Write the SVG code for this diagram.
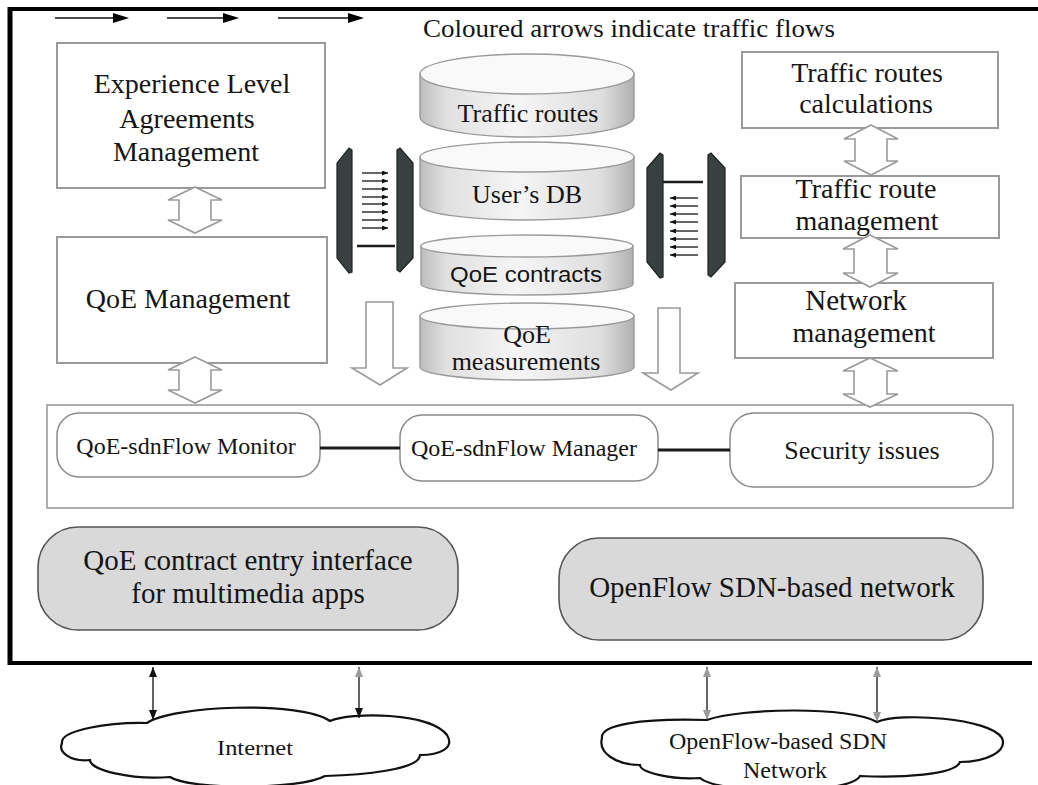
<svg xmlns="http://www.w3.org/2000/svg" width="1038" height="785" viewBox="0 0 1038 785">
<style>
.t{font-family:"Liberation Serif","Times New Roman",serif;fill:#151515;text-anchor:middle}
.s{font-family:"Liberation Sans",Arial,sans-serif;fill:#151515;text-anchor:middle}
.box{fill:#fff;stroke:#9a9a9a;stroke-width:2}
.rbox{fill:#fff;stroke:#8a8a8a;stroke-width:1.5}
.gbox{fill:#d9d9d9;stroke:#555;stroke-width:1.6}
.hollow{fill:#fff;stroke:#9a9a9a;stroke-width:1.6;stroke-linejoin:miter}
.cylside{fill:url(#cyl);stroke:#9a9a9a;stroke-width:1.4}
.cyltop{fill:#f9f9f9;stroke:#9a9a9a;stroke-width:1.4}
.strip{fill:#394040;stroke:#1e2222;stroke-width:1.2}
.frame{stroke:#000;fill:none}
.conn{stroke:#1a1a1a;stroke-width:3;fill:none}
.thin{stroke:#111;stroke-width:1.3;fill:none}
.cloud{fill:#fff;stroke:#111;stroke-width:2.2}
.head{fill:#000}
</style>
<defs>
<linearGradient id="cyl" x1="0" y1="0" x2="1" y2="0">
<stop offset="0" stop-color="#bdbdbd"/>
<stop offset="0.12" stop-color="#e0e0e0"/>
<stop offset="0.45" stop-color="#f5f5f5"/>
<stop offset="0.85" stop-color="#dedede"/>
<stop offset="1" stop-color="#b0b0b0"/>
</linearGradient>
<marker id="sm" viewBox="0 0 6 5" refX="6" refY="2.5" markerWidth="6" markerHeight="5" markerUnits="userSpaceOnUse" orient="auto">
<path d="M0,0 L6,2.5 L0,5 Z" fill="#111"/>
</marker>
<marker id="dk" viewBox="0 0 10 8" refX="10" refY="4" markerWidth="10" markerHeight="8" markerUnits="userSpaceOnUse" orient="auto-start-reverse">
<path d="M0,0 L10,4 L0,8 Z" fill="#111"/>
</marker>
<marker id="gy" viewBox="0 0 10 8" refX="10" refY="4" markerWidth="10" markerHeight="8" markerUnits="userSpaceOnUse" orient="auto-start-reverse">
<path d="M0,0 L10,4 L0,8 Z" fill="#9a9a9a"/>
</marker>
</defs>
<rect width="1038" height="785" fill="#fff"/>

<g id="frame">
<line class="frame" x1="8" y1="9" x2="1038" y2="9" stroke-width="4"/>
<line class="frame" x1="10" y1="7" x2="10" y2="665" stroke-width="5"/>
<line class="frame" x1="8" y1="663" x2="1032" y2="663" stroke-width="4"/>
</g>

<g id="legend">
<line class="thin" x1="55" y1="18" x2="118" y2="18" stroke-width="2"/>
<path class="head" d="M113,13 L129,18 L113,23 Z"/>
<line class="thin" x1="167" y1="18" x2="228" y2="18" stroke-width="2"/>
<path class="head" d="M223,13 L239,18 L223,23 Z"/>
<line class="thin" x1="278" y1="18" x2="352" y2="18" stroke-width="2"/>
<path class="head" d="M348,13 L364,18 L348,23 Z"/>
<text class="t" x="629" y="37" font-size="25" textLength="412" lengthAdjust="spacingAndGlyphs">Coloured arrows indicate traffic flows</text>
</g>

<g id="ela">
<rect class="box" x="57" y="43" width="268" height="145"/>
<text class="t" x="192" y="93" font-size="28">Experience Level</text>
<text class="t" x="187" y="128" font-size="28">Agreements</text>
<text class="t" x="186" y="161" font-size="28">Management</text>
</g>

<g id="qoe-mgmt">
<rect class="box" x="57" y="237" width="270" height="126"/>
<text class="t" x="188" y="308" font-size="28">QoE Management</text>
</g>

<g id="trc">
<rect class="box" x="742" y="52" width="256" height="76"/>
<text class="t" x="867" y="82" font-size="28">Traffic routes</text>
<text class="t" x="866" y="113" font-size="28">calculations</text>
</g>

<g id="trm">
<rect class="box" x="741" y="176" width="258" height="62"/>
<text class="t" x="866" y="198" font-size="28">Traffic route</text>
<text class="t" x="867" y="230" font-size="28">management</text>
</g>

<g id="nm">
<rect class="box" x="735" y="283" width="258" height="75"/>
<text class="t" x="856" y="310" font-size="29">Network</text>
<text class="t" x="864" y="342" font-size="28">management</text>
</g>

<g id="db-traffic-routes">
<path class="cylside" d="M420,74 L420,117 A107,20 0 0 0 634,117 L634,74 Z"/>
<ellipse class="cyltop" cx="527" cy="74" rx="107" ry="20"/>
<text class="t" x="528" y="122" font-size="26">Traffic routes</text>
</g>

<g id="db-users">
<path class="cylside" d="M420,157 L420,205 A107,15 0 0 0 634,205 L634,157 Z"/>
<ellipse class="cyltop" cx="527" cy="157" rx="107" ry="15"/>
<text class="t" x="527" y="203" font-size="26">User’s DB</text>
</g>

<g id="db-contracts">
<path class="cylside" d="M421,246 L421,284 A106,11 0 0 0 633,284 L633,246 Z"/>
<ellipse class="cyltop" cx="527" cy="246" rx="106" ry="11"/>
<text class="s" x="526" y="282" font-size="22" textLength="152" lengthAdjust="spacingAndGlyphs">QoE contracts</text>
</g>

<g id="db-measurements">
<path class="cylside" d="M420,316 L420,367 A107,13 0 0 0 634,367 L634,316 Z"/>
<ellipse class="cyltop" cx="527" cy="316" rx="107" ry="13"/>
<text class="t" x="527" y="343" font-size="26">QoE</text>
<text class="t" x="526" y="370" font-size="26">measurements</text>
</g>

<g id="gate-left">
<path class="strip" d="M337,163 L349,148 L352,150 L352,272 L349,273 L337,258 Z"/>
<path class="strip" d="M397,150 L400,148 L413,163 L413,258 L400,272 L397,270 Z"/>
<g class="thin" stroke-width="1.3">
<line x1="362" y1="173" x2="388" y2="173" marker-end="url(#sm)"/>
<line x1="362" y1="181" x2="388" y2="181" marker-end="url(#sm)"/>
<line x1="362" y1="189" x2="388" y2="189" marker-end="url(#sm)"/>
<line x1="362" y1="197" x2="388" y2="197" marker-end="url(#sm)"/>
<line x1="362" y1="204" x2="388" y2="204" marker-end="url(#sm)"/>
<line x1="362" y1="212" x2="388" y2="212" marker-end="url(#sm)"/>
<line x1="362" y1="220" x2="388" y2="220" marker-end="url(#sm)"/>
<line x1="362" y1="228" x2="388" y2="228" marker-end="url(#sm)"/>
</g>
<line x1="357" y1="246" x2="395" y2="246" stroke="#1a1a1a" stroke-width="2.5"/>
</g>

<g id="gate-right">
<path class="strip" d="M647,168 L660,153 L663,155 L663,277 L660,278 L647,262 Z"/>
<path class="strip" d="M708,155 L711,153 L725,168 L725,262 L711,277 L708,275 Z"/>
<line x1="663" y1="182" x2="703" y2="182" stroke="#1a1a1a" stroke-width="2.5"/>
<g class="thin" stroke-width="1.3">
<line x1="698" y1="198" x2="670" y2="198" marker-end="url(#sm)"/>
<line x1="698" y1="206" x2="670" y2="206" marker-end="url(#sm)"/>
<line x1="698" y1="214" x2="670" y2="214" marker-end="url(#sm)"/>
<line x1="698" y1="222" x2="670" y2="222" marker-end="url(#sm)"/>
<line x1="698" y1="231" x2="670" y2="231" marker-end="url(#sm)"/>
<line x1="698" y1="239" x2="670" y2="239" marker-end="url(#sm)"/>
<line x1="698" y1="247" x2="670" y2="247" marker-end="url(#sm)"/>
<line x1="698" y1="255" x2="670" y2="255" marker-end="url(#sm)"/>
</g>
</g>

<g id="container">
<rect x="47" y="405" width="966" height="103" fill="none" stroke="#9a9a9a" stroke-width="1.6"/>
</g>

<g id="monitor">
<rect class="rbox" x="57" y="413" width="263" height="64" rx="22"/>
<text class="t" x="186" y="454" font-size="24">QoE-sdnFlow Monitor</text>
</g>

<g id="manager">
<rect class="rbox" x="400" y="415" width="258" height="66" rx="22"/>
<text class="t" x="524" y="456" font-size="24">QoE-sdnFlow Manager</text>
</g>

<g id="security">
<rect class="rbox" x="730" y="413" width="263" height="74" rx="24"/>
<text class="t" x="862" y="459" font-size="26">Security issues</text>
</g>

<g id="entry-interface">
<rect class="gbox" x="38" y="527" width="420" height="103" rx="40"/>
<text class="t" x="248" y="570" font-size="29">QoE contract entry interface</text>
<text class="t" x="248" y="603" font-size="29">for multimedia apps</text>
</g>

<g id="openflow-net">
<rect class="gbox" x="559" y="538" width="424" height="102" rx="40"/>
<text class="t" x="772" y="597" font-size="29">OpenFlow SDN-based network</text>
</g>

<g id="internet">
<path class="cloud" d="M62,743 C60,730 110,722 147,723 C170,706 300,700 330,721 C350,712 430,712 447,735 C455,748 440,755 420,755 C420,770 360,775 325,776 C300,790 190,790 170,777 C130,780 90,770 90,760 C70,762 58,752 62,743 Z"/>
<text class="t" x="255" y="755" font-size="22" textLength="76" lengthAdjust="spacingAndGlyphs">Internet</text>
</g>

<g id="sdn-cloud">
<path class="cloud" d="M602,738 C600,725 640,718 707,720 C740,708 850,706 877,722 C900,712 990,718 1002,738 C1008,752 985,762 960,762 C955,775 900,778 860,776 C850,795 720,795 700,778 C670,780 640,772 640,765 C615,765 598,752 602,738 Z"/>
<text class="t" x="778" y="749" font-size="24">OpenFlow-based SDN</text>
<text class="t" x="785" y="778" font-size="24">Network</text>
</g>

<g id="connectors">
<path class="hollow" d="M195,187 L222,200 L211,200 L211,220 L222,220 L195,233 L168,220 L179,220 L179,200 L168,200 Z"/>
<path class="hollow" d="M195,357 L222,370 L211,370 L211,390 L222,390 L195,403 L168,390 L179,390 L179,370 L168,370 Z"/>
<path class="hollow" d="M871,125 L898,139 L887,139 L887,161 L898,161 L871,175 L844,161 L855,161 L855,139 L844,139 Z"/>
<path class="hollow" d="M870,235 L898,249 L887,249 L887,273 L898,273 L870,287 L843,273 L854,273 L854,249 L843,249 Z"/>
<path class="hollow" d="M870,358 L898,371 L887,371 L887,394 L898,394 L870,407 L843,394 L854,394 L854,371 L843,371 Z"/>
<path class="hollow" d="M366,302 L393,302 L393,368 L407,368 L380,385 L352,368 L366,368 Z"/>
<path class="hollow" d="M658,308 L680,308 L680,373 L698,373 L671,390 L643,373 L658,373 Z"/>
<line class="conn" x1="320" y1="448" x2="400" y2="448"/>
<line class="conn" x1="658" y1="450" x2="730" y2="450"/>
<line class="thin" x1="153" y1="667" x2="153" y2="720" marker-start="url(#dk)" marker-end="url(#dk)"/>
<line class="thin" x1="359" y1="667" x2="359" y2="718" marker-start="url(#gy)" marker-end="url(#dk)"/>
<line class="thin" x1="707" y1="667" x2="707" y2="720" marker-start="url(#gy)" marker-end="url(#gy)"/>
<line class="thin" x1="877" y1="667" x2="877" y2="722" marker-start="url(#gy)" marker-end="url(#gy)"/>
</g>
</svg>
